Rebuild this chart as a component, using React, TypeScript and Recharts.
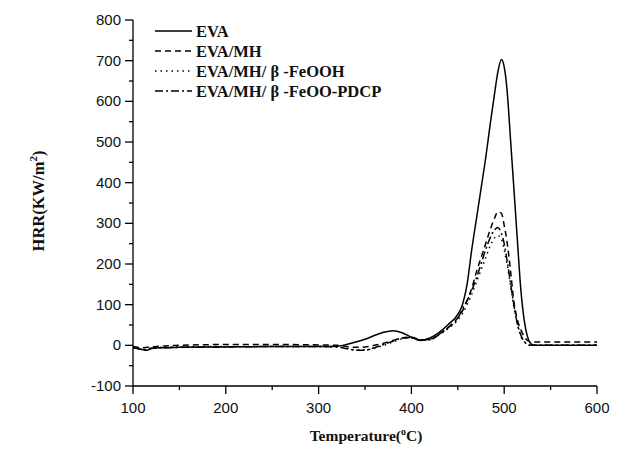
import React from 'react';
import { LineChart, Line, XAxis, YAxis } from 'recharts';

const temps = [100, 105, 110, 115, 120, 130, 150, 200, 250, 300, 320, 330, 340, 350, 360, 370, 380, 390, 400, 410, 420, 430, 440, 450, 455, 460, 465, 470, 475, 480, 485, 490, 493, 497, 500, 503, 507, 510, 514, 518, 522, 525, 528, 532, 540, 560, 600];

const eva = [-5, -8, -10, -12, -8, -6, -5, -4, -3, -3, -2, 2, 8, 15, 24, 32, 36, 31, 20, 12, 18, 32, 52, 76, 100, 150, 235, 310, 385, 460, 545, 625, 670, 703, 685, 630, 500, 400, 265, 135, 55, 22, 6, 0, 0, 0, 0];
const evaMh = [-3, -5, -6, -5, -4, -2, 0, 2, 2, 1, 0, -3, -5, -4, 0, 5, 12, 18, 20, 14, 15, 28, 45, 68, 85, 110, 140, 180, 215, 250, 285, 315, 328, 325, 295, 255, 180, 115, 65, 38, 20, 12, 9, 8, 8, 8, 8];
const evaMhFeooh = [-6, -8, -10, -10, -6, -5, -4, -3, -3, -3, -4, -7, -11, -11, -7, 0, 8, 16, 18, 13, 14, 26, 42, 62, 78, 100, 125, 155, 185, 215, 245, 265, 270, 262, 235, 200, 145, 100, 55, 22, 8, 2, 0, 0, 0, 0, 0];
const evaMhPdcp = [-6, -8, -10, -12, -7, -6, -5, -4, -3, -3, -4, -8, -12, -12, -6, 2, 10, 18, 19, 13, 14, 27, 44, 66, 90, 110, 135, 165, 200, 235, 265, 285, 290, 275, 250, 210, 150, 105, 55, 25, 8, 3, 1, 0, 0, 0, 0];

const xTicks = [100, 150, 200, 250, 300, 350, 400, 450, 500, 550, 600];
const yTicks = [-100, -50, 0, 50, 100, 150, 200, 250, 300, 350, 400, 450, 500, 550, 600, 650, 700, 750, 800];

const seriesNames = ['EVA', 'EVA/MH', 'EVA/MH/ β -FeOOH', 'EVA/MH/ β -FeOO-PDCP'];
const dashes = ['', '6 4', '1.5 4', '8 3 2 3'];
const seriesValues = [eva, evaMh, evaMhFeooh, evaMhPdcp];

const rows = temps.map((t, i) => ({
  t,
  s0: seriesValues[0][i],
  s1: seriesValues[1][i],
  s2: seriesValues[2][i],
  s3: seriesValues[3][i],
}));

const XTick = (props: any) => {
  const { x, y, payload } = props;
  const major = payload.value % 100 === 0;
  return (
    <g>
      <line x1={x} x2={x} y1={y} y2={y + (major ? 8 : 4)} stroke="#000" strokeWidth={1.3} />
      {major && (
        <text x={x} y={y + 27} textAnchor="middle" fontFamily="Liberation Sans, Arial, sans-serif" fontSize={15} fill="#111">
          {payload.value}
        </text>
      )}
    </g>
  );
};

const YTick = (props: any) => {
  const { x, y, payload } = props;
  const major = payload.value % 100 === 0;
  return (
    <g>
      <line x1={x - (major ? 8 : 4)} x2={x} y1={y} y2={y} stroke="#000" strokeWidth={1.3} />
      {major && (
        <text x={x - 12} y={y + 5} textAnchor="end" fontFamily="Liberation Sans, Arial, sans-serif" fontSize={15} fill="#111">
          {payload.value}
        </text>
      )}
    </g>
  );
};

export default function App() {
  return (
    <div style={{ position: 'absolute', left: 0, top: 0 }}>
      <LineChart width={644} height={451} data={rows} margin={{ top: 20, right: 47, bottom: 15, left: 73 }}>
        <XAxis
          dataKey="t"
          type="number"
          domain={[100, 600]}
          ticks={xTicks}
          interval={0}
          tickSize={0}
          tickMargin={0}
          tickLine={false}
          tick={<XTick />}
          axisLine={{ stroke: '#000', strokeWidth: 1.3 }}
          height={50}
        />
        <YAxis
          type="number"
          domain={[-100, 800]}
          ticks={yTicks}
          interval={0}
          tickSize={0}
          tickMargin={0}
          tickLine={false}
          tick={<YTick />}
          axisLine={{ stroke: '#000', strokeWidth: 1.3 }}
          width={60}
        />
        {seriesValues.map((_, i) => (
          <Line
            key={i}
            dataKey={'s' + i}
            name={seriesNames[i]}
            type="monotone"
            stroke="#000"
            strokeWidth={1.5}
            strokeDasharray={dashes[i] || undefined}
            dot={false}
            isAnimationActive={false}
          />
        ))}
        <g>
          {seriesNames.map((n, i) => (
            <g key={n}>
              <line x1={155} x2={192} y1={31 + i * 20} y2={31 + i * 20} stroke="#000" strokeWidth={1.5} strokeDasharray={dashes[i] || undefined} />
              <text x={196} y={36.5 + i * 20} fontFamily="Liberation Serif, Times New Roman, serif" fontWeight="bold" fontSize={16.5} fill="#111">
                {n}
              </text>
            </g>
          ))}
        </g>
        <text x={44} y={201} transform="rotate(-90 44 201)" textAnchor="middle" fontFamily="Liberation Serif, Times New Roman, serif" fontWeight="bold" fontSize={16.5} fill="#111">
          HRR(KW/m<tspan dy={-7} fontSize={11}>2</tspan><tspan dy={7}>)</tspan>
        </text>
        <text x={366} y={441} textAnchor="middle" fontFamily="Liberation Serif, Times New Roman, serif" fontWeight="bold" fontSize={15.5} fill="#111">
          Temperature(<tspan dy={-6} fontSize={10}>o</tspan><tspan dy={6}>C)</tspan>
        </text>
      </LineChart>
    </div>
  );
}
